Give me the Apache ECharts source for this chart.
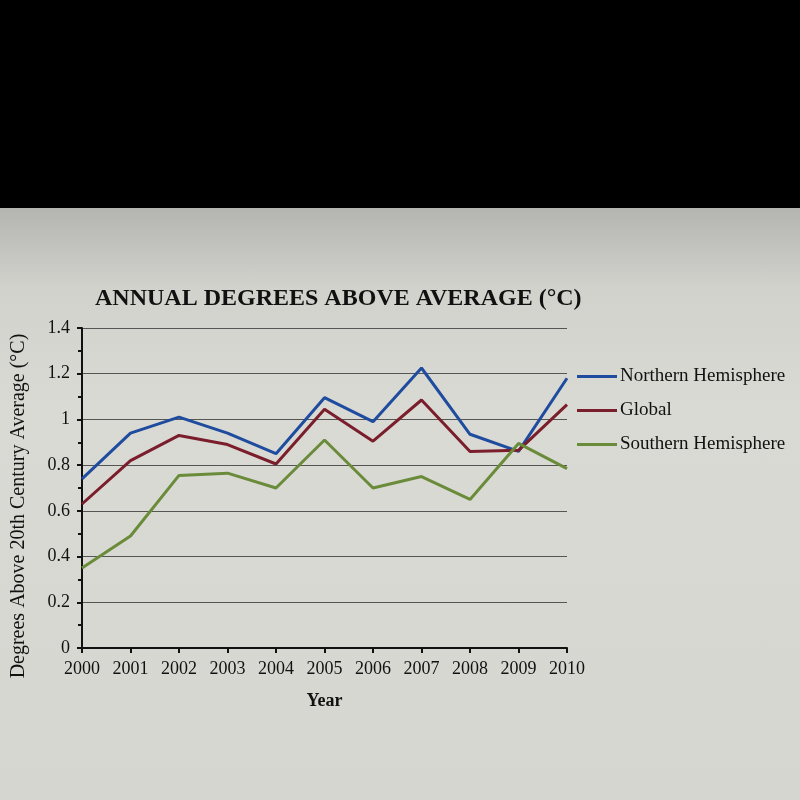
<!DOCTYPE html>
<html lang="en">
<head>
    <meta charset="UTF-8">
    <title>Annual Degrees Above Average</title>
    <script src="https://cdn.jsdelivr.net/npm/echarts@6/dist/echarts.min.js"></script>
    <style>
        body { margin: 0; background: #000; }
        #chart {
            position: absolute; left: 0; top: 208px; width: 800px; height: 592px;
            background: linear-gradient(180deg, #b4b4b0 0px, #d2d2cd 80px, #dadad5 200px, #d6d6d1 592px);
        }
    </style>
</head>
<body>
    <div id="chart"></div>
    <script>
        var years = ["2000", "2001", "2002", "2003", "2004", "2005", "2006", "2007", "2008", "2009", "2010"];
        var northern = [0.74, 0.94, 1.01, 0.94, 0.85, 1.095, 0.99, 1.225, 0.935, 0.86, 1.18];
        var globalTemp = [0.63, 0.82, 0.93, 0.89, 0.805, 1.045, 0.905, 1.085, 0.86, 0.865, 1.065];
        var southern = [0.35, 0.49, 0.755, 0.765, 0.70, 0.91, 0.70, 0.75, 0.65, 0.895, 0.785];

        var serif = "Liberation Serif";
        var myChart = echarts.init(document.getElementById("chart"));

        function line(name, data, color) {
            return {
                name: name,
                type: "line",
                data: data,
                symbol: "none",
                lineStyle: { color: color, width: 3 },
                itemStyle: { color: color }
            };
        }

        var option = {
            animation: false,
            title: {
                text: "ANNUAL DEGREES ABOVE AVERAGE (°C)",
                left: 90,
                top: 74,
                textStyle: { fontFamily: serif, fontWeight: "bold", fontSize: 24, color: "#111" }
            },
            legend: {
                orient: "vertical",
                left: 572,
                top: 154,
                itemWidth: 40,
                itemHeight: 3,
                itemGap: 15,
                itemStyle: { borderWidth: 0 },
                icon: "rect",
                textStyle: { fontFamily: serif, fontSize: 19, color: "#111", padding: [0, 0, 0, -2] },
                data: ["Northern Hemisphere", "Global", "Southern Hemisphere"]
            },
            grid: { left: 82, top: 120, width: 485, height: 320 },
            xAxis: {
                type: "category",
                data: years,
                boundaryGap: false,
                name: "Year",
                nameLocation: "middle",
                nameGap: 44,
                nameTextStyle: { fontFamily: serif, fontWeight: "bold", fontSize: 18, color: "#111" },
                axisLine: { lineStyle: { color: "#111", width: 2 } },
                axisTick: { show: true, length: 5, lineStyle: { color: "#111", width: 2 } },
                axisLabel: { fontFamily: serif, fontSize: 18, color: "#111", margin: 12 }
            },
            yAxis: {
                type: "value",
                min: 0,
                max: 1.4,
                interval: 0.2,
                name: "Degrees Above 20th Century Average (°C)",
                nameLocation: "middle",
                nameGap: 53,
                nameTextStyle: { fontFamily: serif, fontSize: 20, color: "#111", padding: [0, 0, 0, -36] },
                axisLine: { show: true, lineStyle: { color: "#111", width: 2 } },
                axisTick: { show: true, length: 5, lineStyle: { color: "#111", width: 2 } },
                minorTick: { show: true, splitNumber: 2, length: 4, lineStyle: { color: "#111", width: 2 } },
                axisLabel: { fontFamily: serif, fontSize: 18, color: "#111", margin: 12 },
                splitLine: { lineStyle: { color: "#555", width: 1 } }
            },
            series: [
                line("Northern Hemisphere", northern, "#1f4c9e"),
                line("Global", globalTemp, "#7a1e2c"),
                line("Southern Hemisphere", southern, "#6a8c3a")
            ]
        };
        myChart.setOption(option);
    </script>
</body>
</html>
